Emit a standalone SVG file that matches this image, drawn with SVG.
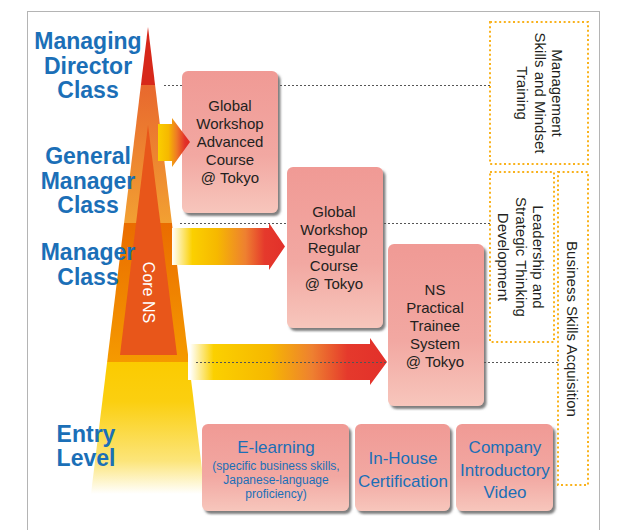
<svg xmlns="http://www.w3.org/2000/svg" width="619" height="530" viewBox="0 0 619 530">
<defs>
<style>
.lbl{font-family:"Liberation Sans",Arial,sans-serif;font-weight:bold;font-size:23px;fill:#1B6FB7;text-anchor:middle}
.bt{font-family:"Liberation Sans",Arial,sans-serif;font-size:15px;fill:#231F20;text-anchor:middle}
.bb{font-family:"Liberation Sans",Arial,sans-serif;font-size:17px;fill:#1B6FB7;text-anchor:middle}
.bs{font-family:"Liberation Sans",Arial,sans-serif;font-size:12px;fill:#1B6FB7;text-anchor:middle}
.rt{font-family:"Liberation Sans",Arial,sans-serif;font-size:15px;fill:#231F20;text-anchor:middle}
.box{fill:url(#gBox);filter:url(#sh)}
.dot{fill:none;stroke:#F9B21C;stroke-width:2;stroke-dasharray:2 2.6}
.dl{stroke:#555;stroke-width:1;stroke-dasharray:2 2;fill:none}
</style>
<linearGradient id="gBox" x1="0" y1="0" x2="0" y2="1">
<stop offset="0" stop-color="#F09A95"/><stop offset="0.6" stop-color="#F2A8A2"/><stop offset="1" stop-color="#F7C6BC"/>
</linearGradient>
<filter id="sh" x="-10%" y="-10%" width="130%" height="130%">
<feDropShadow dx="2.5" dy="3" stdDeviation="1" flood-color="#555" flood-opacity="0.75"/>
</filter>
<linearGradient id="gBand1" gradientUnits="userSpaceOnUse" x1="0" y1="85" x2="0" y2="223">
<stop offset="0" stop-color="#E8682E"/><stop offset="1" stop-color="#F2A032"/>
</linearGradient>
<linearGradient id="gBand2" gradientUnits="userSpaceOnUse" x1="0" y1="223" x2="0" y2="362">
<stop offset="0" stop-color="#EA6C00"/><stop offset="1" stop-color="#F59A00"/>
</linearGradient>
<linearGradient id="gBand3" gradientUnits="userSpaceOnUse" x1="0" y1="362" x2="0" y2="494">
<stop offset="0" stop-color="#FBCB00"/><stop offset="0.3" stop-color="#FBCF10"/><stop offset="0.75" stop-color="#FCE57A"/><stop offset="1" stop-color="#FFFFFF"/>
</linearGradient>
<linearGradient id="gA1" gradientUnits="userSpaceOnUse" x1="157" y1="0" x2="190" y2="0">
<stop offset="0" stop-color="#FBD000"/><stop offset="0.35" stop-color="#F6B800"/><stop offset="0.6" stop-color="#EE7A25"/><stop offset="0.85" stop-color="#E2302A"/><stop offset="1" stop-color="#E0281F"/>
</linearGradient>
<linearGradient id="gA2" gradientUnits="userSpaceOnUse" x1="172" y1="0" x2="285" y2="0">
<stop offset="0" stop-color="#FFFFFF"/><stop offset="0.18" stop-color="#FBD000"/><stop offset="0.4" stop-color="#F6B800"/><stop offset="0.65" stop-color="#EE8030"/><stop offset="0.82" stop-color="#E5392C"/><stop offset="1" stop-color="#E2302A"/>
</linearGradient>
<linearGradient id="gA3" gradientUnits="userSpaceOnUse" x1="190" y1="0" x2="387" y2="0">
<stop offset="0" stop-color="#FFFFFF"/><stop offset="0.12" stop-color="#FBD000"/><stop offset="0.4" stop-color="#F6B800"/><stop offset="0.62" stop-color="#EE8030"/><stop offset="0.8" stop-color="#E5392C"/><stop offset="1" stop-color="#E2302A"/>
</linearGradient>
<clipPath id="tri"><polygon points="148,27 91,494 205,494"/></clipPath>
</defs>

<rect x="27.5" y="11.5" width="572" height="600" fill="#FFFFFF" stroke="#B4B4B4" stroke-width="1"/>

<g id="guides">
<line class="dl" x1="164" y1="85.5" x2="490" y2="85.5" stroke="#777"/>
<line class="dl" x1="180" y1="223.5" x2="490" y2="223.5"/>
<line class="dl" x1="484" y1="362.5" x2="558" y2="362.5" stroke="#777"/>
</g>

<g id="pyramid" clip-path="url(#tri)">
<rect x="80" y="20" width="140" height="65" fill="#D7281A"/>
<rect x="80" y="85" width="140" height="138" fill="url(#gBand1)"/>
<rect x="80" y="223" width="140" height="139" fill="url(#gBand2)"/>
<rect x="80" y="362" width="140" height="135" fill="url(#gBand3)"/>
<polygon points="148,125 120,355 177,355" fill="#E8561A"/>
</g>
<text id="core-ns" transform="translate(143,292.5) rotate(90)" font-family="Liberation Sans, Arial, sans-serif" font-size="16" fill="#FFFFFF" text-anchor="middle">Core NS</text>

<g id="node-advanced">
<rect class="box" x="182" y="71" width="96" height="142" rx="6"/>
<text class="bt"><tspan x="230" y="111">Global</tspan><tspan x="230" y="129">Workshop</tspan><tspan x="230" y="147">Advanced</tspan><tspan x="230" y="165">Course</tspan><tspan x="230" y="183">@ Tokyo</tspan></text>
</g>
<g id="node-regular">
<rect class="box" x="287" y="167" width="96" height="161" rx="6"/>
<text class="bt"><tspan x="334" y="217">Global</tspan><tspan x="334" y="235">Workshop</tspan><tspan x="334" y="253">Regular</tspan><tspan x="334" y="271">Course</tspan><tspan x="334" y="289">@ Tokyo</tspan></text>
</g>
<g id="node-trainee">
<rect class="box" x="388" y="244" width="96" height="162" rx="6"/>
<text class="bt"><tspan x="435" y="295">NS</tspan><tspan x="435" y="313">Practical</tspan><tspan x="435" y="331">Trainee</tspan><tspan x="435" y="349">System</tspan><tspan x="435" y="367">@ Tokyo</tspan></text>
</g>
<g id="node-elearning">
<rect class="box" x="202" y="424" width="147" height="87" rx="6"/>
<text class="bb" x="276" y="453">E-learning</text>
<text class="bs"><tspan x="276" y="470">(specific business skills,</tspan><tspan x="276" y="484">Japanese-language</tspan><tspan x="276" y="498">proficiency)</tspan></text>
</g>
<g id="node-inhouse">
<rect class="box" x="355" y="424" width="95" height="87" rx="6"/>
<text class="bb"><tspan x="403" y="464">In-House</tspan><tspan x="403" y="487">Certification</tspan></text>
</g>
<g id="node-video">
<rect class="box" x="456" y="424" width="97" height="87" rx="6"/>
<text class="bb"><tspan x="505" y="453">Company</tspan><tspan x="505" y="476">Introductory</tspan><tspan x="505" y="498">Video</tspan></text>
</g>

<g id="connectors">
<polygon id="arrow1" points="158,124 172,124 172,118 190,142 172,167 172,161 158,161" fill="url(#gA1)"/>
<polygon id="arrow2" points="172,228 269,228 269,223 285,246.5 269,270 269,265 172,265" fill="url(#gA2)"/>
<polygon id="arrow3" points="188,344 370,344 370,338 387,362 370,385 370,380 188,380" fill="url(#gA3)"/>
<line class="dl" x1="196" y1="362.5" x2="386" y2="362.5" stroke="#444"/>
</g>

<g id="area-management">
<rect class="dot" x="490" y="22" width="98" height="142"/>
<text class="rt" transform="translate(552,93) rotate(90)"><tspan x="0" y="0">Management</tspan><tspan x="0" y="17.5">Skills and Mindset</tspan><tspan x="0" y="35">Training</tspan></text>
</g>
<g id="area-leadership">
<rect class="dot" x="490" y="172" width="64" height="170"/>
<text class="rt" transform="translate(533,257) rotate(90)"><tspan x="0" y="0">Leadership and</tspan><tspan x="0" y="17.5">Strategic Thinking</tspan><tspan x="0" y="35">Development</tspan></text>
</g>
<g id="area-business">
<rect class="dot" x="558" y="172" width="30" height="313"/>
<text class="rt" transform="translate(567,329) rotate(90)">Business Skills Acquisition</text>
</g>

<g id="labels">
<text class="lbl"><tspan x="88" y="49">Managing</tspan><tspan x="88" y="73.5">Director</tspan><tspan x="88" y="98">Class</tspan></text>
<text class="lbl"><tspan x="88" y="164">General</tspan><tspan x="88" y="188.5">Manager</tspan><tspan x="88" y="213">Class</tspan></text>
<text class="lbl"><tspan x="88" y="260">Manager</tspan><tspan x="88" y="284.5">Class</tspan></text>
<text class="lbl"><tspan x="86" y="442">Entry</tspan><tspan x="86" y="465.5">Level</tspan></text>
</g>
</svg>
